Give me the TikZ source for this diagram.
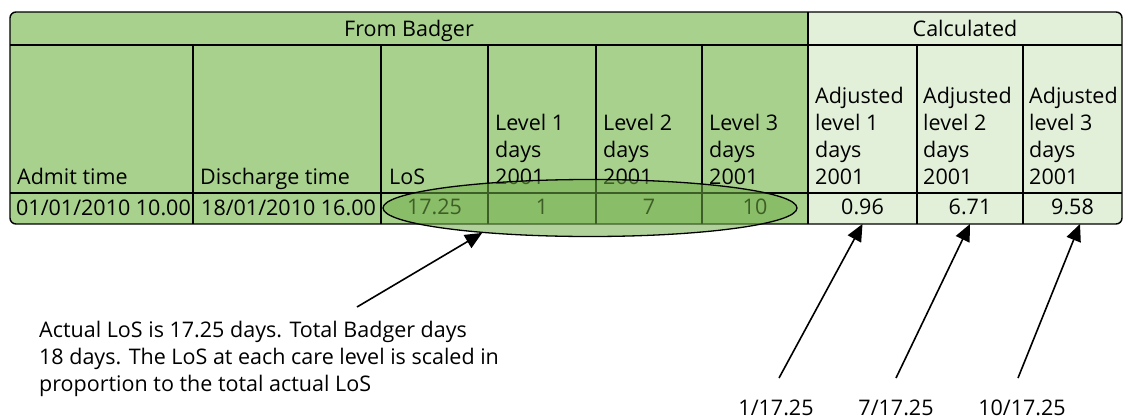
\documentclass[tikz,border=0pt]{standalone}
\usepackage{fontspec}
\setmainfont{Open Sans}
\usetikzlibrary{shapes.geometric,arrows.meta}

\definecolor{badger}{HTML}{A9D18E}
\definecolor{calcgreen}{HTML}{E2F0D9}
\definecolor{ringgreen}{HTML}{70AD47}

\begin{document}
\begin{tikzpicture}[x=1pt,y=-1pt,
  every node/.style = {font=\fontsize{21.5}{27}\selectfont, inner sep=0pt},
  grid/.style    = {line width=2.4pt},
  head/.style    = {anchor=south west, align=left,
    execute at end node=\strut},
  title/.style   = {anchor=base},
  stamp/.style   = {anchor=base west},
  value/.style   = {anchor=south, text height=22pt, text depth=9pt},
  ring/.style    = {ellipse, draw, line width=1.3pt, fill=ringgreen,
    fill opacity=0.55, minimum width=414pt, minimum height=57pt},
  memo/.style    = {anchor=north west, align=left,
    execute at begin node=\strut},
  ratio/.style   = {anchor=base},
  pointer/.style = {line width=1.6pt, -{Triangle[length=17pt,width=15pt]}},
  ]
  \useasboundingbox (0,0) rectangle (1130,418);

  % table background
  \begin{scope}
    \clip[rounded corners=6pt] (10,12) rectangle (1122,224);
    \fill[badger] (10,12) rectangle (808,224);
    \fill[calcgreen] (808,12) rectangle (1122,224);
  \end{scope}

  % header row
  \node[title] (frombadger) at (409,36) {From Badger};
  \node[title] (calculated) at (965,36) {Calculated};

  % column headings
  \node[head] (admit)     at (17,192.5)  {Admit time};
  \node[head] (discharge) at (200,192.5) {Discharge time};
  \node[head] (los)       at (389,192.5) {LoS};
  \node[head] (level1)    at (495,192.5) {Level 1\\days\\2001};
  \node[head] (level2)    at (603,192.5) {Level 2\\days\\2001};
  \node[head] (level3)    at (709,192.5) {Level 3\\days\\2001};
  \node[head] (adjust1)   at (815,192.5) {Adjusted\\level 1\\days\\2001};
  \node[head] (adjust2)   at (923,192.5) {Adjusted\\level 2\\days\\2001};
  \node[head] (adjust3)   at (1029,192.5) {Adjusted\\level 3\\days\\2001};

  % data row
  \node[stamp] (admitval)     at (16,215)  {01/01/2010 10.00};
  \node[stamp] (dischargeval) at (201,215) {18/01/2010 16.00};
  \node[value] (losval) at (434.5,224) {17.25};
  \node[value] (l1val)  at (542,224)   {1};
  \node[value] (l2val)  at (649,224)   {7};
  \node[value] (l3val)  at (755,224)   {10};
  \node[value] (v1)     at (862.5,224) {0.96};
  \node[value] (v2)     at (970,224)   {6.71};
  \node[value] (v3)     at (1072.5,224) {9.58};

  % grid
  \foreach \x in {193,381,488,596,702,917,1023}
    \draw[grid] (\x,45) -- (\x,224);
  \draw[grid] (808,12) -- (808,224);
  \draw[grid] (10,45) -- (1122,45);
  \draw[grid] (10,193) -- (1122,193);
  \draw[line width=1.4pt, rounded corners=6pt] (10,12) rectangle (1122,224);

  % the Badger days
  \node[ring] (ring) at (590,208) {};

  % notes
  \node[memo] (memo) at (39,321)
    {Actual LoS is 17.25 days. Total Badger days\\18 days. The LoS at each care level is scaled in\\proportion to the total actual LoS};
  \coordinate (memotail) at (357,307);
  \draw[pointer] (memotail) -- (ring.193);

  \node[ratio] (r1) at (776,415)  {1/17.25};
  \node[ratio] (r2) at (896,415)  {7/17.25};
  \node[ratio] (r3) at (1022,415) {10/17.25};
  \coordinate (r1tail) at (779,378);
  \coordinate (r2tail) at (896,378);
  \coordinate (r3tail) at (1018,378);
  \draw[pointer] (r1tail) -- (v1.south);
  \draw[pointer] (r2tail) -- (v2.south);
  \draw[pointer] (r3tail) -- ([xshift=7.5pt]v3.south);

\end{tikzpicture}
\end{document}
